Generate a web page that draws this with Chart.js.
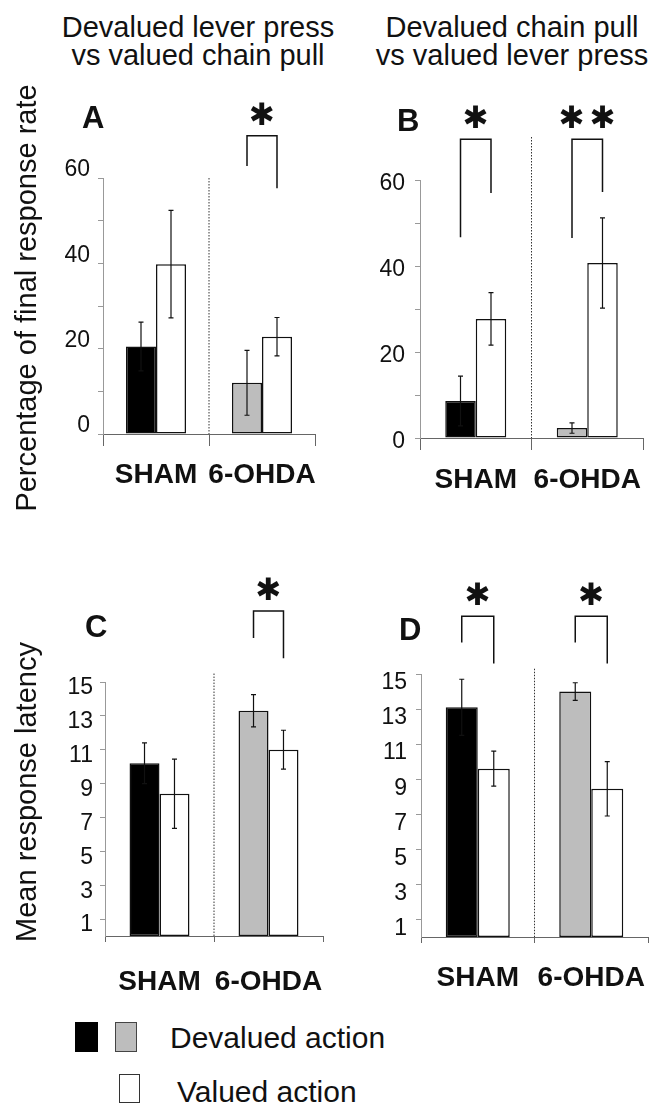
<!DOCTYPE html>
<html>
<head>
<meta charset="utf-8">
<script src="https://cdn.jsdelivr.net/npm/chart.js@4.4.1/dist/chart.umd.min.js"></script>
<style>
body{margin:0;background:#fff;width:661px;height:1104px;position:relative;overflow:hidden;font-family:"Liberation Sans",Arial,sans-serif;color:#111}
canvas{position:absolute}
.hd{position:absolute;width:400px;font-size:29px;line-height:28px;text-align:center;white-space:nowrap}
.box{position:absolute;box-sizing:border-box}
.lg{position:absolute;font-size:30px;line-height:30px;white-space:nowrap}
</style>
</head>
<body>
<div class="hd" style="left:-2px;top:13px">Devalued lever press<br>vs valued chain pull</div>
<div class="hd" style="left:312px;top:13px">Devalued chain pull<br>vs valued lever press</div>

<canvas id="chartA" width="330" height="450" style="left:0;top:70px"></canvas>
<canvas id="chartB" width="331" height="450" style="left:330px;top:70px"></canvas>
<canvas id="chartC" width="330" height="440" style="left:0;top:560px"></canvas>
<canvas id="chartD" width="331" height="440" style="left:330px;top:560px"></canvas>

<div class="box" style="left:75px;top:1022px;width:23px;height:30px;background:#000"></div>
<div class="box" style="left:115px;top:1022px;width:22px;height:30px;background:#bdbdbd;border:1px solid #444"></div>
<div class="lg" style="left:170px;top:1023px">Devalued action</div>
<div class="box" style="left:119px;top:1074px;width:21px;height:29px;background:#fff;border:1.5px solid #333"></div>
<div class="lg" style="left:177px;top:1077px">Valued action</div>

<script>
// groups on the x axis
var groups = ['SHAM', '6-OHDA'];

// y axis ticks
var rateTicks = [0, 20, 40, 60];
var rateMinor = [10, 30, 50];
var latencyTicks = [1, 3, 5, 7, 9, 11, 13, 15];

// A: devalued lever press vs valued chain pull (% of final response rate)
var aDevalued = [20.5, 12.0];
var aDevaluedErr = [5.7, 7.6];
var aValued = [39.8, 22.8];
var aValuedErr = [12.6, 4.5];

// B: devalued chain pull vs valued lever press (% of final response rate)
var bDevalued = [8.6, 2.3];
var bDevaluedErr = [5.8, 1.2];
var bValued = [27.7, 40.7];
var bValuedErr = [6.1, 10.5];

// C: mean response latency
var cDevalued = [10.2, 13.3];
var cDevaluedErr = [1.2, 0.95];
var cValued = [8.4, 11.0];
var cValuedErr = [2.05, 1.15];

// D: mean response latency
var dDevalued = [13.1, 14.0];
var dDevaluedErr = [1.6, 0.5];
var dValued = [9.6, 8.45];
var dValuedErr = [1.0, 1.55];

var devaluedColors = ['#000000', '#bdbdbd'];
Chart.defaults.font.family = '"Liberation Sans", Arial, sans-serif';
Chart.defaults.color = '#111';

function extrasPlugin(p) {
  return {
    id: 'extras',
    afterDatasetsDraw: function(chart) {
      var ctx = chart.ctx, x = chart.scales.x, y = chart.scales.y, area = chart.chartArea;
      ctx.save();
      // dotted divider between the groups
      var mid = (x.getPixelForValue(0) + x.getPixelForValue(1)) / 2;
      ctx.strokeStyle = '#333';
      ctx.lineWidth = 1;
      ctx.setLineDash([1.5, 1.5]);
      ctx.beginPath();
      ctx.moveTo(mid, y.getPixelForValue(p.dividerTop));
      ctx.lineTo(mid, area.bottom);
      ctx.stroke();
      ctx.setLineDash([]);

      // error bars
      ctx.strokeStyle = '#111';
      ctx.lineWidth = 1.2;
      chart.data.datasets.forEach(function(ds, di) {
        chart.getDatasetMeta(di).data.forEach(function(bar, i) {
          var t = y.getPixelForValue(ds.data[i] + ds.errors[i]);
          var b = y.getPixelForValue(ds.data[i] - ds.errors[i]);
          ctx.beginPath();
          ctx.moveTo(bar.x, t); ctx.lineTo(bar.x, b);
          ctx.moveTo(bar.x - 2.5, t); ctx.lineTo(bar.x + 2.5, t);
          ctx.moveTo(bar.x - 2.5, b); ctx.lineTo(bar.x + 2.5, b);
          ctx.stroke();
        });
      });

      // significance brackets
      ctx.lineWidth = 1.5;
      ctx.fillStyle = '#111';
      ctx.font = '31px "DejaVu Sans"';
      ctx.textAlign = 'center';
      ctx.textBaseline = 'middle';
      p.brackets.forEach(function(br) {
        var l = chart.getDatasetMeta(0).data[br.group].x;
        var r = chart.getDatasetMeta(1).data[br.group].x;
        var top = y.getPixelForValue(br.top);
        ctx.beginPath();
        ctx.moveTo(l, y.getPixelForValue(br.left));
        ctx.lineTo(l, top);
        ctx.lineTo(r, top);
        ctx.lineTo(r, y.getPixelForValue(br.right));
        ctx.stroke();
        var c = (l + r) / 2;
        for (var k = 0; k < br.stars; k++) {
          ctx.fillText('\u2731', c + (k - (br.stars - 1) / 2) * 31, top - 19);
        }
      });

      // panel letter
      ctx.font = 'bold 31px "Liberation Sans", Arial, sans-serif';
      ctx.textAlign = 'left';
      ctx.textBaseline = 'alphabetic';
      ctx.fillText(p.letter, p.letterX, p.letterY);

      // y axis title
      if (p.yTitle) {
        ctx.translate(28, p.yTitleY);
        ctx.rotate(-Math.PI / 2);
        ctx.font = '29px "Liberation Sans", Arial, sans-serif';
        ctx.textAlign = 'center';
        ctx.textBaseline = 'middle';
        ctx.fillText(p.yTitle, 0, 0);
      }
      ctx.restore();
    }
  };
}

function drawPanel(p) {
  new Chart(document.getElementById(p.id), {
    type: 'bar',
    data: {
      labels: groups,
      datasets: [
        { data: p.devalued, errors: p.devaluedErr, backgroundColor: devaluedColors,
          borderColor: '#111', borderWidth: 1.5, borderSkipped: false },
        { data: p.valued, errors: p.valuedErr, backgroundColor: '#ffffff',
          borderColor: '#111', borderWidth: 1.5, borderSkipped: false }
      ]
    },
    options: {
      responsive: false,
      animation: false,
      events: [],
      layout: { padding: { top: p.padTop, right: p.padRight, left: 0, bottom: 0 } },
      categoryPercentage: p.catPct,
      barPercentage: 1.0,
      plugins: { legend: { display: false }, tooltip: { enabled: false } },
      scales: {
        x: {
          afterFit: function(s) {
            s.height = p.xHeight;
            s.paddingLeft = 0;
            s.paddingRight = 0;
          },
          grid: { offset: true, drawOnChartArea: false, tickLength: p.xTickLen, color: '#666' },
          border: { color: '#666', width: 1 },
          ticks: { font: { size: 28, weight: 'bold' }, color: '#111', padding: p.xPad,
                   maxRotation: 0, autoSkip: false }
        },
        y: {
          min: 0,
          max: p.max,
          afterFit: function(s) {
            s.width = p.yWidth;
            s.paddingTop = 0;
            s.paddingBottom = 0;
          },
          afterBuildTicks: function(s) {
            s.ticks = p.tickValues.map(function(v) { return { value: v }; });
          },
          grid: { drawOnChartArea: false, tickLength: 5, color: '#999' },
          border: { color: '#999', width: 1 },
          ticks: {
            font: { size: 23 }, color: '#111', padding: p.yPad, labelOffset: p.labelOffset,
            autoSkip: false,
            callback: function(v) { return p.labels.indexOf(v) >= 0 ? String(v) : ''; }
          }
        }
      }
    },
    plugins: [extrasPlugin(p)]
  });
}

var rateSteps = rateTicks.concat(rateMinor).sort(function(a, b) { return a - b; });

drawPanel({
  id: 'chartA', letter: 'A', letterX: 82, letterY: 58,
  yTitle: 'Percentage of final response rate', yTitleY: 228,
  devalued: aDevalued, devaluedErr: aDevaluedErr, valued: aValued, valuedErr: aValuedErr,
  max: 60, tickValues: rateSteps, labels: rateTicks,
  padTop: 108, padRight: 15, yWidth: 103, xHeight: 86, catPct: 0.566,
  xTickLen: 12, xPad: 12, yPad: 8, labelOffset: -8, dividerTop: 60,
  brackets: [{ group: 1, top: 69.9, left: 62.8, right: 57.6, stars: 1 }]
});

drawPanel({
  id: 'chartB', letter: 'B', letterX: 67, letterY: 61,
  devalued: bDevalued, devaluedErr: bDevaluedErr, valued: bValued, valuedErr: bValuedErr,
  max: 60, tickValues: rateSteps, labels: rateTicks,
  padTop: 110, padRight: 18, yWidth: 90, xHeight: 82, catPct: 0.547,
  xTickLen: 12, xPad: 13, yPad: 10, labelOffset: 4, dividerTop: 70,
  brackets: [
    { group: 0, top: 69.5, left: 46.7, right: 57.0, stars: 1 },
    { group: 1, top: 69.5, left: 46.5, right: 57.2, stars: 2 }
  ]
});

drawPanel({
  id: 'chartC', letter: 'C', letterX: 85, letterY: 77,
  yTitle: 'Mean response latency', yTitleY: 232,
  devalued: cDevalued, devaluedErr: cDevaluedErr, valued: cValued, valuedErr: cValuedErr,
  max: 15, tickValues: latencyTicks, labels: latencyTicks,
  padTop: 122, padRight: 7, yWidth: 105, xHeight: 64, catPct: 0.55,
  xTickLen: 6, xPad: 23, yPad: 7, labelOffset: 6, dividerTop: 15.5,
  brackets: [{ group: 1, top: 19.2, left: 17.6, right: 16.4, stars: 1 }]
});

drawPanel({
  id: 'chartD', letter: 'D', letterX: 69, letterY: 80,
  devalued: dDevalued, devaluedErr: dDevaluedErr, valued: dValued, valuedErr: dValuedErr,
  max: 15, tickValues: latencyTicks, labels: latencyTicks,
  padTop: 114, padRight: 13, yWidth: 91, xHeight: 63, catPct: 0.564,
  xTickLen: 6, xPad: 18, yPad: 9, labelOffset: 9, dividerTop: 15.3,
  brackets: [
    { group: 0, top: 18.3, left: 16.8, right: 15.6, stars: 1 },
    { group: 1, top: 18.3, left: 16.8, right: 15.6, stars: 1 }
  ]
});
</script>
</body>
</html>
